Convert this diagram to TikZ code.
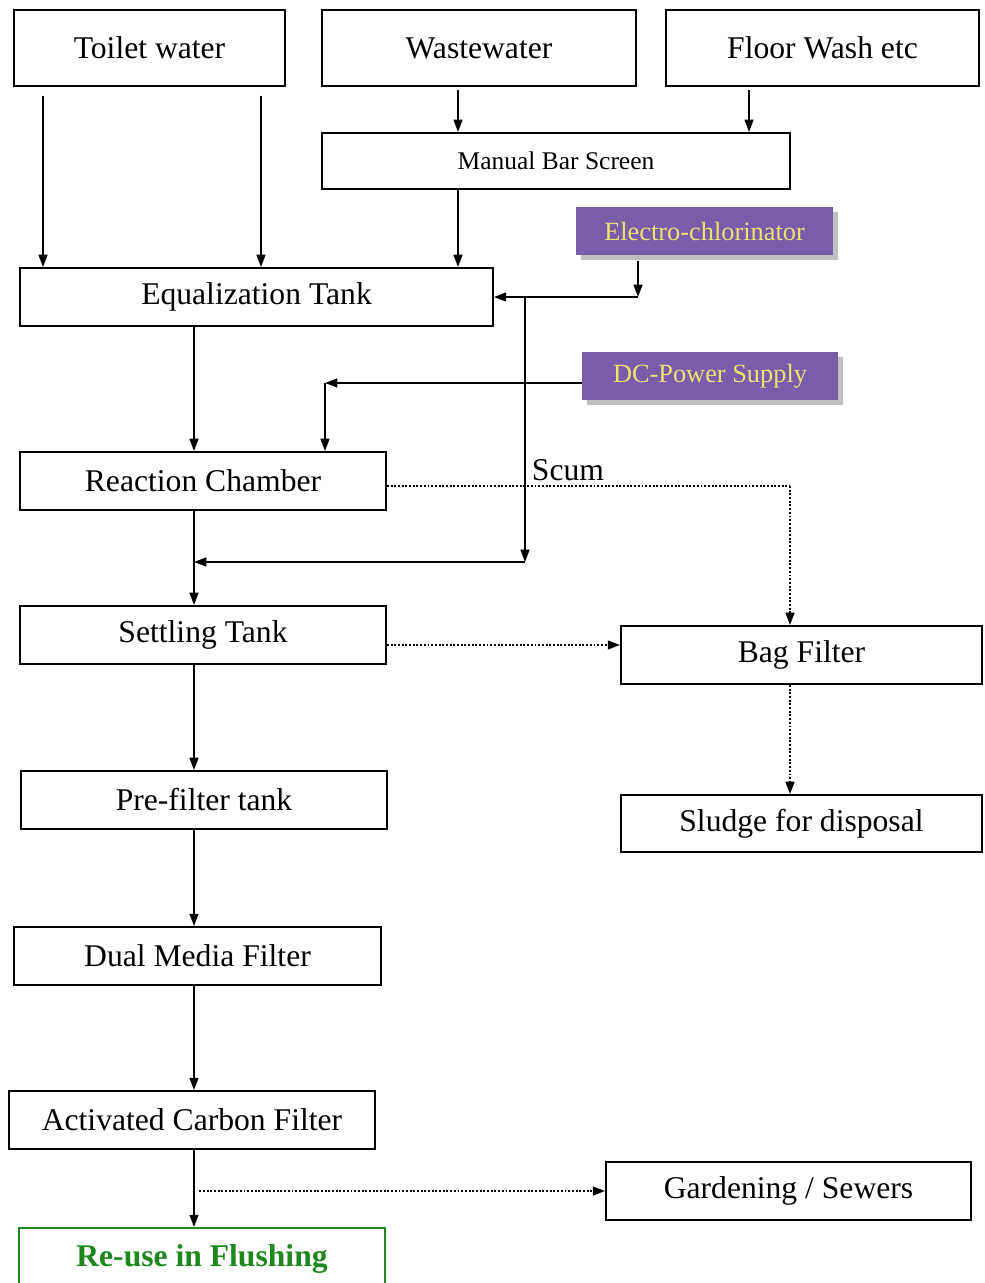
\documentclass[tikz,border=0pt]{standalone}
\usepackage{fontspec}
\setmainfont{Liberation Serif}
\usetikzlibrary{arrows.meta,shadows}
\definecolor{chlorpurple}{RGB}{121,92,170}
\definecolor{chloryellow}{RGB}{238,226,112}
\definecolor{reusegreen}{RGB}{30,135,30}
\tikzset{>/.tip={Triangle[length=7pt,width=5pt]},
  box/.style={draw, rectangle, line width=1.1pt, inner sep=0pt, minimum height=1.16cm, font=\fontsize{18}{21}\selectfont},
  smallbox/.style={box, font=\fontsize{14.5}{17}\selectfont},
  purplebox/.style={rectangle, fill=chlorpurple, text=chloryellow, inner sep=0pt, minimum height=0.96cm,
    font=\fontsize{15}{18}\selectfont, drop shadow={shadow xshift=3pt, shadow yshift=-3pt, fill=black!25, opacity=1}},
  greenbox/.style={box, draw=reusegreen, text=reusegreen, font=\fontsize{18}{21}\selectfont\bfseries},
  flow/.style={->, line width=1.1pt},
  side/.style={->, line width=1.1pt, densely dotted}}

\begin{document}
\begin{tikzpicture}[x=0.02cm, y=-0.02cm]
\clip (0,0) rectangle (984,1283);

\node[box, minimum width=5.42cm, minimum height=1.52cm] (toilet) at (149.5,48)  {Toilet water};
\node[box, minimum width=6.28cm, minimum height=1.52cm] (waste)  at (479,48)    {Wastewater};
\node[box, minimum width=6.26cm, minimum height=1.52cm] (floor)  at (822.5,48)  {Floor Wash etc};
\node[smallbox, minimum width=9.36cm, minimum height=1.12cm] (mbs) at (556,161) {Manual Bar Screen};
\node[purplebox, minimum width=5.14cm] (chlor) at (704.5,231) {Electro-chlorinator};
\node[purplebox, minimum width=5.12cm] (dc)    at (710,376)   {DC-Power Supply};
\node[box, minimum width=9.46cm] (eq)        at (256.5,297) {Equalization Tank};
\node[box, minimum width=7.32cm] (reaction)  at (203,481)   {Reaction Chamber};
\node[box, minimum width=7.32cm] (settling)  at (203,635)   {Settling Tank};
\node[box, minimum width=7.22cm] (bag)       at (801.5,655) {Bag Filter};
\node[box, minimum width=7.32cm] (prefilter) at (204,800)   {Pre-filter tank};
\node[box, minimum width=7.22cm, minimum height=1.14cm] (sludge) at (801.5,823.5) {Sludge for disposal};
\node[box, minimum width=7.34cm] (dual)      at (197.5,956) {Dual Media Filter};
\node[box, minimum width=7.32cm] (acf)       at (192,1120)  {Activated Carbon Filter};
\node[box, minimum width=7.30cm] (garden)    at (788.5,1191) {Gardening / Sewers};
\node[greenbox, minimum width=7.32cm, minimum height=1.24cm] (reuse) at (202,1259) {Re-use in Flushing};
\node[font=\fontsize{18}{21}\selectfont] (scum) at (568,470) {Scum};

% x positions of the vertical lines
\coordinate (tl) at (43,0);
\coordinate (tr) at (261,0);
\coordinate (wm) at (458,0);
\coordinate (fm) at (749,0);
\coordinate (mx) at (194,0);
\coordinate (ec) at (638,297);
\coordinate (j1) at (525,297);
\coordinate (j2) at (525,562);
\coordinate (dk) at (325,383);
\coordinate (sc) at (790,486);
\coordinate (sb) at (0,645);

\draw[flow, shorten <=5pt] (toilet.south -| tl) -- (eq.north -| tl);
\draw[flow, shorten <=5pt] (toilet.south -| tr) -- (eq.north -| tr);
\draw[flow, shorten <=2pt] (waste.south -| wm) -- (mbs.north -| wm);
\draw[flow, shorten <=2pt] (floor.south -| fm) -- (mbs.north -| fm);
\draw[flow] (mbs.south -| wm) -- (eq.north -| wm);

\draw[flow, shorten <=3pt] (chlor.south -| ec) -- (ec);
\draw[flow] (ec) -- (eq.east);
\draw[flow] (j1) -- (j2);
\draw[flow] (j2) -- (mx |- j2);

\draw[flow] (dc.west |- dk) -- (dk);
\draw[flow] (dk) -- (reaction.north -| dk);

\foreach \a/\b in {eq/reaction, reaction/settling, settling/prefilter, prefilter/dual, dual/acf, acf/reuse}
{
  \draw[flow] (\a.south -| mx) -- (\b.north -| mx);
}

\draw[line width=1.1pt, densely dotted] (reaction.east |- sc) -- (sc);
\draw[side] (sc) -- (bag.north -| sc);
\draw[side] (settling.east |- sb) -- (bag.west |- sb);
\draw[side] (bag.south -| sc) -- (sludge.north -| sc);
\draw[side, shorten <=3pt] (mx |- garden.west) -- (garden.west);
\end{tikzpicture}
\end{document}
